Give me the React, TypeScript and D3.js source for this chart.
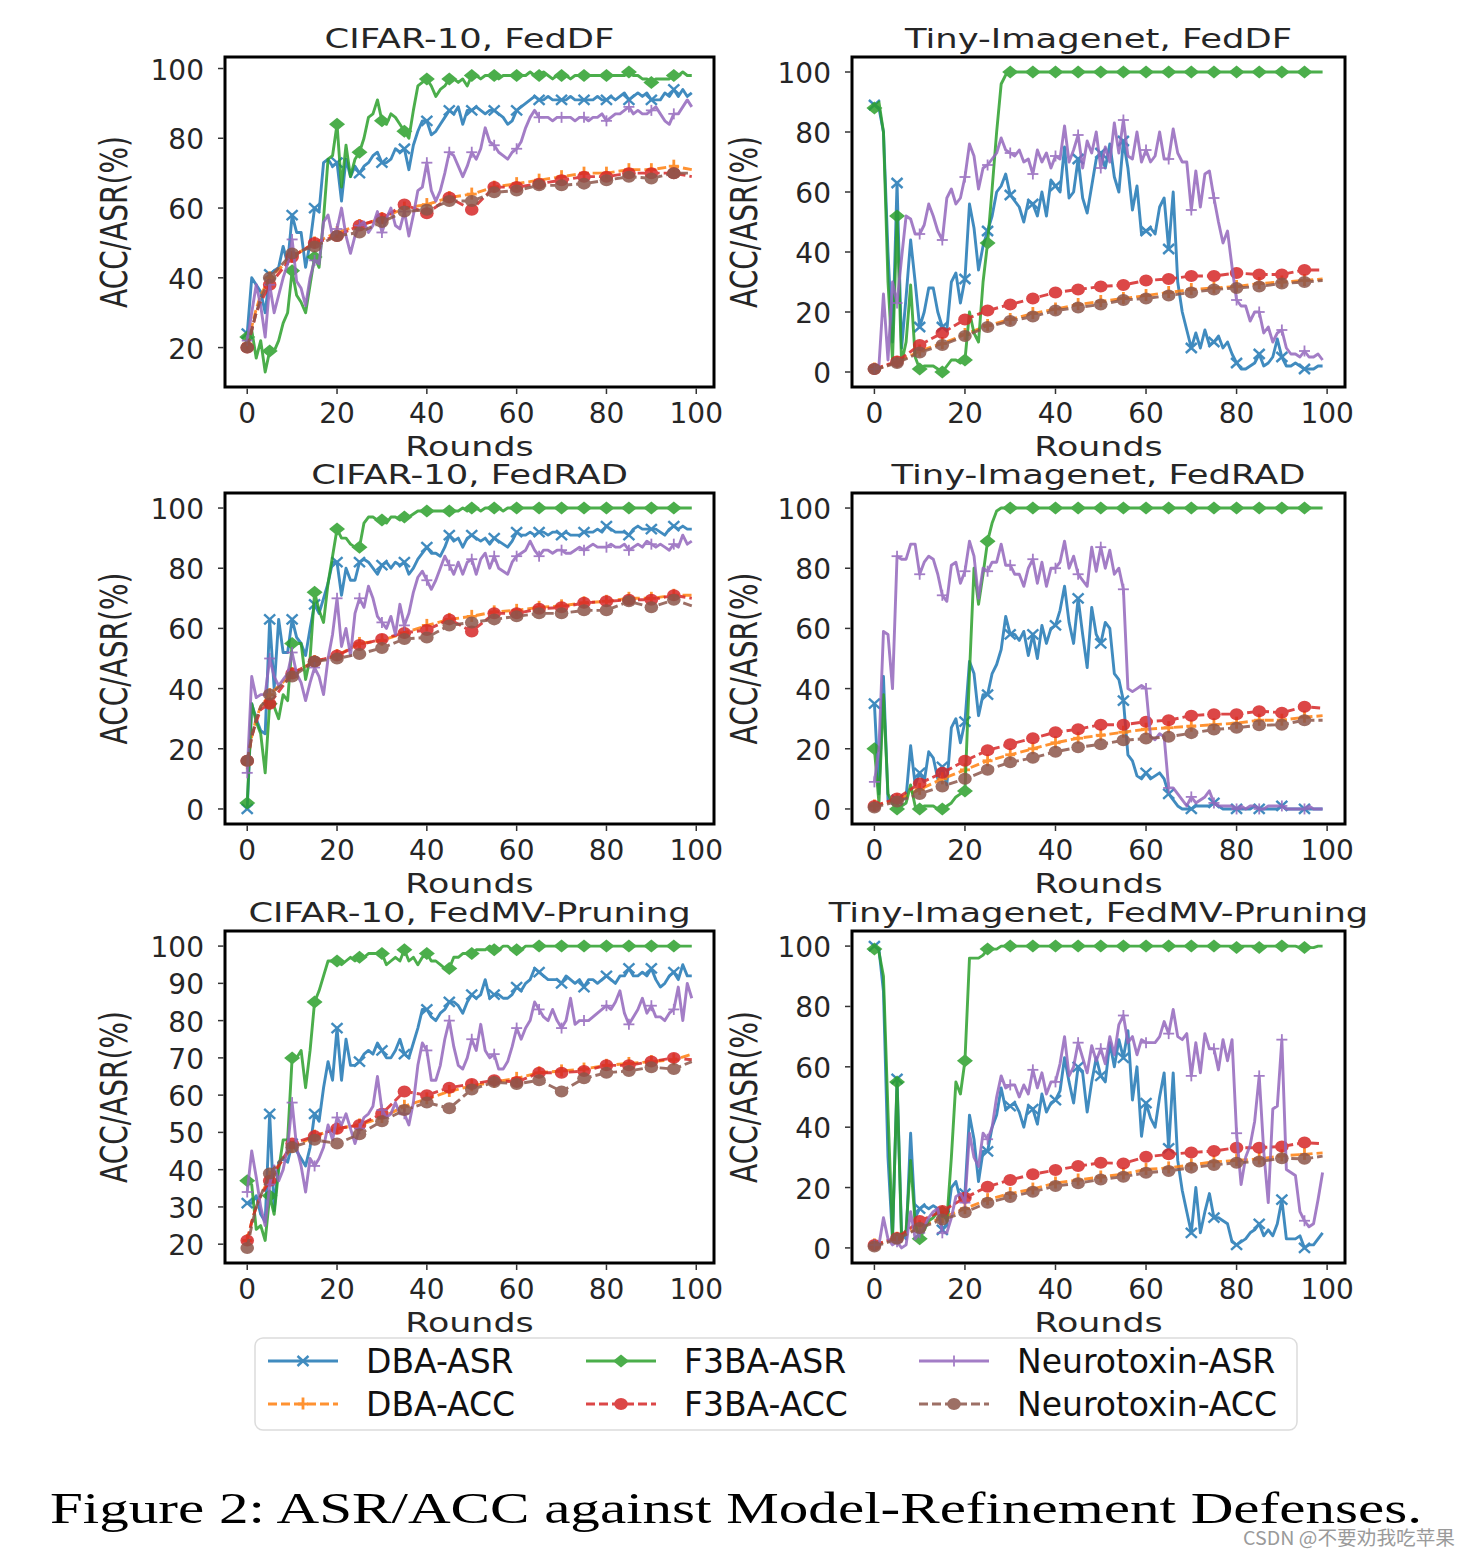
import React from "react";
import * as d3 from "d3";

// rounds on the x axis
const ROUNDS = d3.range(0, 100);
// ACC curves are smooth, read at these rounds
const ACC_ROUNDS = [0, 1, 2, 3, 5, 10, 15, 20, 25, 30, 35, 40, 45, 50, 55, 60, 65, 70, 75, 80, 85, 90, 95, 99];
const X_TICKS = [0, 20, 40, 60, 80, 100];
const Y_TICKS_20 = [20, 40, 60, 80, 100];
const Y_TICKS_0 = [0, 20, 40, 60, 80, 100];
const Y_TICKS_10 = [20, 30, 40, 50, 60, 70, 80, 90, 100];

// ---------- CIFAR-10, FedDF ----------
const CIFAR_DF_DBA_ASR = [
  24, 40, 38, 36, 30, 41, 42, 43, 49, 44, 58, 53, 53, 43, 50, 60, 59, 73, 74, 72,
  73, 62, 74, 69, 72, 70, 72, 73, 75, 76, 73, 73, 74, 77, 76, 77, 71, 78, 82, 85,
  85, 81, 82, 84, 86, 88, 87, 89, 84, 88, 88, 89, 88, 87, 88, 88, 87, 86, 84, 85,
  88, 89, 90, 91, 92, 91, 91, 92, 91, 91, 91, 91, 92, 91, 91, 91, 91, 91, 92, 91,
  91, 92, 91, 92, 93, 91, 92, 93, 92, 93, 91, 91, 91, 93, 92, 94, 92, 94, 92, 93,
];
const CIFAR_DF_F3BA_ASR = [
  23, 25, 17, 22, 13, 19, 19, 22, 27, 30, 42, 35, 33, 30, 38, 46, 43, 57, 74, 75,
  84, 66, 78, 69, 74, 76, 80, 86, 87, 91, 85, 84, 87, 86, 84, 82, 80, 88, 95, 96,
  97, 95, 92, 94, 95, 97, 97, 96, 97, 95, 98, 98, 97, 98, 98, 98, 97, 98, 98, 98,
  98, 98, 98, 99, 98, 98, 99, 98, 97, 98, 98, 98, 97, 98, 98, 98, 98, 98, 98, 98,
  98, 98, 98, 98, 98, 99, 98, 98, 97, 97, 96, 97, 97, 97, 97, 98, 98, 99, 98, 98,
];
const CIFAR_DF_NEURO_ASR = [
  22, 30, 38, 32, 23, 38, 30, 35, 40, 44, 51, 39, 37, 32, 40, 45, 44, 56, 58, 52,
  54, 60, 52, 47, 52, 55, 56, 53, 55, 59, 53, 57, 60, 55, 54, 59, 52, 58, 65, 66,
  73, 65, 62, 65, 70, 76, 75, 72, 69, 72, 76, 74, 77, 83, 79, 78, 76, 75, 74, 76,
  77, 79, 83, 86, 88, 86, 86, 86, 85, 86, 86, 86, 86, 85, 86, 86, 85, 86, 86, 87,
  85, 86, 87, 87, 88, 89, 87, 88, 87, 87, 88, 89, 87, 85, 84, 87, 87, 89, 91, 89,
];
const CIFAR_DF_DBA_ACC = [21, 26, 31, 35, 40, 46, 50, 53, 55, 57, 60, 61, 63, 64, 66, 67, 68, 69, 70, 70, 71, 71, 72, 71];
const CIFAR_DF_F3BA_ACC = [20, 25, 30, 33, 38, 46, 50, 52, 55, 57, 61, 58.5, 63, 59.5, 66, 66, 67, 68, 69, 69, 70, 70, 70, 69];
const CIFAR_DF_NEURO_ACC = [20, 25, 30, 34, 40, 47, 49, 52, 53, 56, 59, 59.5, 62, 62, 64.5, 65, 66.5, 66.5, 67, 68, 69, 68.5, 70, 70];

// ---------- Tiny-Imagenet, FedDF ----------
const TINY_DF_DBA_ASR = [
  89, 88, 80, 40, 10, 63, 8, 25, 44, 30, 15, 20, 28, 28, 20, 15, 14, 30, 33, 23,
  31, 56, 48, 34, 42, 47, 52, 60, 62, 66, 59, 57, 55, 50, 57, 56, 52, 60, 52, 64,
  62, 60, 75, 58, 60, 71, 58, 53, 62, 71, 73, 68, 76, 65, 60, 77, 68, 54, 62, 46,
  47, 48, 46, 55, 58, 41, 60, 30, 20, 14, 8, 13, 8, 14, 9, 10, 12, 8, 10, 6,
  3, 1, 1, 2, 3, 6, 2, 3, 5, 11, 5, 2, 2, 3, 2, 1, 1, 1, 2, 2,
];
const TINY_DF_F3BA_ASR = [
  88, 90, 80, 30, 4, 52, 3, 10, 29, 5, 1, 2, 2, 2, 1, 0, 2, 4, 4, 3,
  4, 20, 13, 10, 30, 43, 61, 80, 96, 99, 100, 100, 100, 100, 100, 100, 100, 100, 100, 100,
  100, 100, 100, 100, 100, 100, 100, 100, 100, 100, 100, 100, 100, 100, 100, 100, 100, 100, 100, 100,
  100, 100, 100, 100, 100, 100, 100, 100, 100, 100, 100, 100, 100, 100, 100, 100, 100, 100, 100, 100,
  100, 100, 100, 100, 100, 100, 100, 100, 100, 100, 100, 100, 100, 100, 100, 100, 100, 100, 100, 100,
];
const TINY_DF_NEURO_ASR = [
  1, 2, 26, 4, 30, 23, 38, 52, 51, 46, 46, 49, 56, 52, 47, 44, 58, 61, 56, 58,
  65, 76, 72, 61, 68, 69, 71, 73, 78, 74, 73, 72, 74, 70, 71, 66, 74, 70, 73, 68,
  72, 71, 82, 70, 74, 79, 68, 77, 73, 80, 68, 75, 70, 83, 73, 84, 72, 71, 80, 70,
  74, 70, 72, 80, 71, 71, 81, 73, 70, 70, 54, 67, 55, 66, 67, 58, 50, 43, 47, 35,
  24, 22, 22, 17, 20, 20, 13, 15, 10, 13, 14, 8, 6, 6, 5, 7, 5, 5, 6, 4,
];
const TINY_DF_DBA_ACC = [1, 1.3, 1.8, 2.3, 3.2, 7, 9.5, 12.5, 15.5, 17.5, 19.5, 21, 22.5, 23.5, 24.5, 25.5, 26.5, 27.5, 28, 28.5, 29.5, 30, 30.5, 31];
const TINY_DF_F3BA_ACC = [1, 1.5, 2, 2.5, 3.5, 9, 13, 17.5, 20.5, 22.5, 24.5, 26.5, 27.5, 28.5, 29, 30.5, 31, 32, 32, 33, 32.5, 32.5, 34, 34];
const TINY_DF_NEURO_ACC = [1, 1.2, 1.6, 2.1, 3, 6.5, 9, 12, 15, 17, 18.5, 20.5, 21.5, 22.5, 24, 24.5, 25.5, 26.5, 27.5, 28, 28.5, 29.5, 30, 30.5];

// ---------- CIFAR-10, FedRAD ----------
const CIFAR_RAD_DBA_ASR = [
  0, 35, 30, 26, 25, 63, 40, 63, 52, 52, 63, 57, 55, 51, 60, 68, 65, 70, 75, 82,
  82, 71, 80, 76, 76, 82, 83, 82, 80, 78, 81, 82, 80, 82, 81, 82, 78, 80, 83, 85,
  87, 85, 85, 84, 87, 91, 89, 90, 87, 90, 91, 90, 89, 90, 88, 90, 89, 88, 87, 89,
  92, 91, 91, 92, 91, 92, 92, 91, 92, 92, 91, 92, 91, 91, 91, 92, 92, 92, 93, 92,
  94, 93, 92, 92, 92, 91, 93, 94, 93, 93, 93, 93, 92, 91, 93, 94, 93, 94, 93, 93,
];
const CIFAR_RAD_F3BA_ASR = [
  2, 35, 29, 25, 12, 35, 34, 30, 38, 36, 55, 55, 55, 43, 50, 72, 66, 62, 75, 84,
  93, 90, 90, 88, 87, 87, 95, 97, 97, 96, 96, 95, 97, 97, 96, 97, 97, 98, 99, 99,
  99, 99, 99, 99, 99, 99, 99, 99, 100, 99, 100, 100, 99, 100, 100, 100, 100, 99, 100, 100,
  100, 100, 100, 100, 100, 100, 100, 100, 100, 100, 100, 100, 100, 100, 100, 100, 100, 100, 100, 100,
  100, 100, 100, 100, 100, 100, 100, 100, 100, 100, 100, 100, 100, 100, 100, 100, 100, 100, 100, 100,
];
const CIFAR_RAD_NEURO_ASR = [
  12, 44, 37, 38, 38, 50, 44, 41, 43, 45, 52, 45, 42, 36, 42, 47, 44, 38, 50, 58,
  70, 54, 60, 51, 65, 70, 67, 74, 70, 64, 62, 60, 64, 58, 68, 61, 65, 72, 77, 79,
  76, 73, 76, 80, 84, 81, 78, 82, 78, 82, 83, 78, 83, 85, 80, 84, 80, 79, 78, 82,
  84, 85, 86, 89, 86, 84, 86, 86, 85, 86, 86, 85, 85, 86, 87, 86, 87, 88, 87, 87,
  87, 88, 87, 87, 88, 86, 87, 88, 87, 89, 88, 87, 88, 87, 86, 88, 87, 91, 88, 89,
];
const CIFAR_RAD_DBA_ACC = [15, 24, 30, 34, 38, 45, 49, 51, 55, 56, 58.5, 61, 63, 64, 65.5, 66, 67, 67.5, 68.5, 69, 70, 70, 71, 71];
const CIFAR_RAD_F3BA_ACC = [16, 24, 29, 33, 35, 45, 49, 51, 54.5, 56.5, 58.5, 59.5, 63, 59, 65, 65, 66.5, 67, 68.5, 69, 69.5, 69.5, 71, 70];
const CIFAR_RAD_NEURO_ACC = [16, 24, 30, 34, 38, 44, 49, 50, 51.5, 53.5, 56.5, 57, 61, 62, 63, 64, 65, 65, 66, 66, 69, 67, 69.5, 67.5];

// ---------- Tiny-Imagenet, FedRAD ----------
const TINY_RAD_DBA_ASR = [
  35, 5, 44, 3, 3, 3, 3, 4, 21, 8, 12, 9, 19, 17, 10, 14, 8, 27, 30, 22,
  29, 49, 45, 31, 38, 38, 45, 48, 53, 64, 58, 58, 56, 59, 51, 58, 50, 61, 55, 60,
  61, 66, 74, 62, 55, 70, 58, 47, 67, 58, 55, 62, 60, 45, 43, 36, 18, 16, 11, 10,
  12, 10, 11, 12, 10, 5, 3, 1, 0, 0, 0, 1, 1, 1, 1, 2, 1, 0, 0, 0,
  0, 0, 0, 0, 1, 0, 0, 0, 0, 0, 1, 0, 0, 0, 0, 0, 0, 0, 0, 0,
];
const TINY_RAD_F3BA_ASR = [
  20, 2, 38, 5, 2, 0, 1, 2, 8, 1, 0, 1, 1, 1, 0, 0, 1, 2, 4, 5,
  6, 45, 80, 68, 78, 89, 95, 99, 100, 100, 100, 100, 100, 100, 100, 100, 100, 100, 100, 100,
  100, 100, 100, 100, 100, 100, 100, 100, 100, 100, 100, 100, 100, 100, 100, 100, 100, 100, 100, 100,
  100, 100, 100, 100, 100, 100, 100, 100, 100, 100, 100, 100, 100, 100, 100, 100, 100, 100, 100, 100,
  100, 100, 100, 100, 100, 100, 100, 100, 100, 100, 100, 100, 100, 100, 100, 100, 100, 100, 100, 100,
];
const TINY_RAD_NEURO_ASR = [
  9, 20, 59, 58, 40, 84, 83, 83, 88, 88, 78, 82, 84, 83, 78, 71, 69, 81, 82, 75,
  79, 89, 84, 70, 80, 79, 82, 82, 88, 81, 81, 78, 78, 74, 80, 83, 75, 82, 74, 80,
  80, 82, 89, 80, 84, 78, 76, 74, 87, 79, 87, 80, 86, 78, 80, 73, 40, 39, 40, 41,
  40, 24, 23, 25, 24, 7, 7, 5, 3, 1, 4, 2, 3, 4, 6, 2, 1, 1, 1, 1,
  0, 1, 0, 1, 1, 0, 0, 1, 1, 1, 1, 0, 0, 0, 0, 0, 1, 0, 0, 0,
];
const TINY_RAD_DBA_ACC = [1, 1.3, 1.8, 2.2, 3, 6.5, 10, 13, 16, 18, 20, 22, 23.5, 24.5, 25.5, 26.5, 27, 27.5, 28, 28.5, 29.5, 29.5, 30.5, 31];
const TINY_RAD_F3BA_ACC = [1, 1.5, 2, 2.5, 3.5, 8.5, 12, 16, 19.5, 21.5, 23.5, 25.5, 26.5, 28, 28, 29, 29.5, 31, 31.5, 31.5, 32.5, 32, 34, 33.5];
const TINY_RAD_NEURO_ACC = [0.5, 1, 1.3, 1.7, 2.5, 5, 7.5, 10, 13, 15.5, 17, 19, 20.5, 21.5, 22.8, 23.4, 24, 25.2, 26.4, 27, 27.8, 28, 29.5, 29.5];

// ---------- CIFAR-10, FedMV-Pruning ----------
const CIFAR_MV_DBA_ASR = [
  31, 31, 33, 28, 26, 55, 29, 42, 43, 42, 47, 45, 43, 41, 46, 55, 53, 62, 69, 64,
  78, 64, 75, 68, 68, 69, 71, 72, 71, 74, 72, 70, 70, 72, 75, 71, 70, 74, 78, 83,
  83, 81, 80, 82, 83, 85, 85, 84, 82, 85, 87, 86, 87, 91, 86, 87, 87, 86, 86, 87,
  89, 88, 90, 91, 94, 93, 92, 91, 91, 91, 90, 92, 91, 90, 91, 89, 91, 91, 90, 91,
  92, 91, 90, 92, 92, 94, 92, 92, 93, 92, 94, 91, 89, 90, 92, 93, 91, 95, 92, 92,
];
const CIFAR_MV_F3BA_ASR = [
  37, 36, 24, 25, 21, 33, 28, 40, 48, 48, 70, 70, 72, 62, 72, 85, 88, 92, 96, 96,
  96, 95, 96, 97, 96, 97, 97, 98, 98, 98, 98, 95, 96, 97, 96, 99, 96, 97, 95, 97,
  98, 96, 96, 95, 94, 94, 97, 97, 98, 98, 98, 99, 99, 99, 100, 99, 99, 100, 100, 99,
  99, 99, 100, 100, 100, 100, 100, 100, 100, 100, 100, 100, 100, 100, 100, 100, 100, 100, 100, 100,
  100, 100, 100, 100, 100, 100, 100, 100, 100, 100, 100, 100, 100, 100, 100, 100, 100, 100, 100, 100,
];
const CIFAR_MV_NEURO_ASR = [
  34, 45, 38, 30, 25, 36, 41, 37, 40, 46, 58, 46, 41, 34, 43, 41, 43, 46, 52, 48,
  54, 52, 55, 51, 47, 51, 54, 55, 57, 65, 56, 54, 55, 58, 55, 55, 52, 58, 68, 74,
  72, 64, 64, 68, 75, 80, 73, 68, 67, 70, 75, 72, 79, 72, 70, 71, 67, 67, 69, 73,
  78, 75, 78, 80, 85, 83, 81, 80, 83, 80, 78, 80, 86, 79, 80, 80, 80, 81, 82, 83,
  84, 83, 85, 88, 82, 79, 81, 83, 86, 82, 84, 81, 81, 80, 82, 83, 89, 80, 90, 86,
];
const CIFAR_MV_DBA_ACC = [21, 26, 30, 33, 38, 46, 49, 51, 52, 54, 57, 59, 61, 62.5, 63.5, 64.5, 66, 66.5, 67, 68, 68.5, 69, 69.5, 71];
const CIFAR_MV_F3BA_ACC = [21, 26, 30, 33, 37, 47, 49, 51, 52, 55, 61, 60, 62, 63, 64, 63.5, 66, 66, 66.5, 68, 68, 69, 70, 69.5];
const CIFAR_MV_NEURO_ACC = [19, 25, 30, 33, 39, 46, 48, 47, 49.5, 53, 56, 58, 56.5, 61.5, 63.5, 63, 64, 61, 64.5, 66, 66.5, 67.5, 67, 69];

// ---------- Tiny-Imagenet, FedMV-Pruning ----------
const TINY_MV_DBA_ASR = [
  100, 99, 85, 30, 3, 56, 5, 3, 38, 10, 13, 14, 13, 14, 13, 6, 8, 20, 22, 16,
  18, 44, 36, 22, 32, 32, 40, 44, 53, 46, 47, 48, 45, 40, 47, 46, 41, 51, 45, 48,
  49, 52, 63, 55, 48, 60, 58, 45, 55, 63, 57, 55, 68, 60, 69, 63, 72, 49, 60, 37,
  48, 43, 40, 50, 58, 33, 58, 29, 19, 12, 5, 20, 5, 12, 18, 10, 10, 9, 8, 2,
  1, 2, 3, 5, 6, 8, 4, 6, 4, 8, 16, 3, 3, 3, 4, 0, 1, 1, 3, 5,
];
const TINY_MV_F3BA_ASR = [
  99, 98, 90, 45, 4, 55, 3, 6, 29, 8, 3, 6, 9, 10, 12, 12, 9, 30, 55, 51,
  62, 96, 96, 96, 97, 99, 99, 99, 100, 100, 100, 100, 100, 100, 100, 100, 100, 100, 100, 100,
  100, 100, 100, 100, 100, 100, 100, 100, 100, 100, 100, 100, 100, 100, 100, 100, 100, 100, 100, 100,
  100, 100, 100, 100, 100, 100, 100, 100, 100, 100, 100, 100, 100, 100, 100, 100, 100, 100, 100, 100,
  99.5, 100, 100, 100, 100, 99.5, 100, 100, 100, 100, 100, 100, 100, 100, 99.5, 99.5, 99.5, 99.5, 100, 100,
];
const TINY_MV_NEURO_ASR = [
  1, 1, 10, 3, 1, 2, 0, 1, 12, 3, 5, 7, 10, 12, 13, 5, 5, 10, 17, 18,
  15, 38, 30, 27, 38, 36, 40, 50, 57, 53, 54, 54, 50, 54, 51, 59, 53, 58, 51, 55,
  55, 61, 70, 57, 60, 68, 63, 58, 67, 62, 66, 61, 70, 64, 74, 77, 68, 70, 64, 69,
  68, 68, 68, 70, 75, 71, 79, 70, 69, 71, 57, 68, 58, 71, 66, 66, 59, 69, 62, 69,
  38, 21, 30, 34, 42, 57, 32, 15, 46, 47, 69, 26, 25, 24, 12, 9, 7, 8, 16, 25,
];
const TINY_MV_DBA_ACC = [1, 1.3, 1.8, 2.3, 3.2, 7, 10, 13, 16, 18, 19.5, 21.5, 22.5, 23.5, 24.5, 26, 26.5, 27.5, 28.5, 29, 29.5, 30.5, 31, 31.5];
const TINY_MV_F3BA_ACC = [1, 1.5, 2, 2.5, 3.3, 8.9, 12.2, 16.6, 20.3, 22.5, 24.4, 25.8, 27.1, 28.2, 28, 30.2, 31, 31.6, 32.1, 33.2, 33.2, 33.6, 34.9, 34.5];
const TINY_MV_NEURO_ACC = [0.5, 1, 1.4, 1.9, 3, 6.6, 9.4, 11.8, 15, 16.9, 18.6, 20.5, 21.4, 22.7, 23.6, 24.9, 25.5, 26.6, 27.5, 28.2, 28.6, 29.7, 29.5, 30.4];

// series order: DBA-ASR, DBA-ACC, F3BA-ASR, F3BA-ACC, Neurotoxin-ASR, Neurotoxin-ACC
const SERIES_LABELS = ["DBA-ASR", "DBA-ACC", "F3BA-ASR", "F3BA-ACC", "Neurotoxin-ASR", "Neurotoxin-ACC"];
const STYLES = [
  { color: "#1f77b4", dash: null, marker: "x", rounds: ROUNDS },
  { color: "#ff7f0e", dash: "9,4", marker: "P", rounds: ACC_ROUNDS },
  { color: "#2ca02c", dash: null, marker: "D", rounds: ROUNDS },
  { color: "#d62728", dash: "9,4", marker: "o", rounds: ACC_ROUNDS },
  { color: "#9467bd", dash: null, marker: "+", rounds: ROUNDS },
  { color: "#8c564b", dash: "9,4", marker: "o", rounds: ACC_ROUNDS },
];

const PANELS = [
  { title: "CIFAR-10, FedDF", yTicks: Y_TICKS_20, series: [CIFAR_DF_DBA_ASR, CIFAR_DF_DBA_ACC, CIFAR_DF_F3BA_ASR, CIFAR_DF_F3BA_ACC, CIFAR_DF_NEURO_ASR, CIFAR_DF_NEURO_ACC] },
  { title: "Tiny-Imagenet, FedDF", yTicks: Y_TICKS_0, series: [TINY_DF_DBA_ASR, TINY_DF_DBA_ACC, TINY_DF_F3BA_ASR, TINY_DF_F3BA_ACC, TINY_DF_NEURO_ASR, TINY_DF_NEURO_ACC] },
  { title: "CIFAR-10, FedRAD", yTicks: Y_TICKS_0, series: [CIFAR_RAD_DBA_ASR, CIFAR_RAD_DBA_ACC, CIFAR_RAD_F3BA_ASR, CIFAR_RAD_F3BA_ACC, CIFAR_RAD_NEURO_ASR, CIFAR_RAD_NEURO_ACC] },
  { title: "Tiny-Imagenet, FedRAD", yTicks: Y_TICKS_0, series: [TINY_RAD_DBA_ASR, TINY_RAD_DBA_ACC, TINY_RAD_F3BA_ASR, TINY_RAD_F3BA_ACC, TINY_RAD_NEURO_ASR, TINY_RAD_NEURO_ACC] },
  { title: "CIFAR-10, FedMV-Pruning", yTicks: Y_TICKS_10, series: [CIFAR_MV_DBA_ASR, CIFAR_MV_DBA_ACC, CIFAR_MV_F3BA_ASR, CIFAR_MV_F3BA_ACC, CIFAR_MV_NEURO_ASR, CIFAR_MV_NEURO_ACC] },
  { title: "Tiny-Imagenet, FedMV-Pruning", yTicks: Y_TICKS_0, series: [TINY_MV_DBA_ASR, TINY_MV_DBA_ACC, TINY_MV_F3BA_ASR, TINY_MV_F3BA_ACC, TINY_MV_NEURO_ASR, TINY_MV_NEURO_ACC] },
];

// layout
const COL_LEFT = [225, 852];
const COL_RIGHT = [714, 1345];
const ROW_TOP = [57, 493, 931];
const ROW_BOTTOM = [387, 824, 1263];
const YLABEL_X = [127, 757];
const FONT = "DejaVu Sans";
const LINE_W = 2.9;

const padExtent = (ext: [number, number]) => {
  const p = (ext[1] - ext[0]) * 0.05;
  return [ext[0] - p, ext[1] + p];
};

function Marker({ kind, cx, cy, color }: { kind: string; cx: number; cy: number; color: string }) {
  if (kind === "x")
    return (
      <g stroke={color} strokeWidth={2.4}>
        <line x1={cx - 5.5} y1={cy - 5} x2={cx + 5.5} y2={cy + 5} />
        <line x1={cx - 5.5} y1={cy + 5} x2={cx + 5.5} y2={cy - 5} />
      </g>
    );
  if (kind === "D")
    return <path d={`M${cx - 8},${cy}L${cx},${cy - 6.5}L${cx + 8},${cy}L${cx},${cy + 6.5}Z`} fill={color} />;
  if (kind === "+")
    return (
      <g stroke={color} strokeWidth={1.8}>
        <line x1={cx - 5.5} y1={cy} x2={cx + 5.5} y2={cy} />
        <line x1={cx} y1={cy - 5.5} x2={cx} y2={cy + 5.5} />
      </g>
    );
  if (kind === "P")
    return (
      <g stroke={color} strokeWidth={2.8}>
        <line x1={cx - 5} y1={cy} x2={cx + 5} y2={cy} />
        <line x1={cx} y1={cy - 6.5} x2={cx} y2={cy + 5.5} />
      </g>
    );
  return <ellipse cx={cx} cy={cy} rx={6.8} ry={6} fill={color} />;
}

function Panel({ panel, idx }: { panel: any; idx: number }) {
  const col = idx % 2;
  const row = Math.floor(idx / 2);
  const left = COL_LEFT[col];
  const right = COL_RIGHT[col];
  const top = ROW_TOP[row];
  const bottom = ROW_BOTTOM[row];

  const x = d3.scaleLinear().domain(padExtent(d3.extent(ROUNDS) as [number, number])).range([left, right]);
  const allVals: number[] = panel.series.flat();
  const y = d3.scaleLinear().domain(padExtent(d3.extent(allVals) as [number, number])).range([bottom, top]);

  return (
    <g>
      {panel.series.map((vals: number[], si: number) => {
        const st = STYLES[si];
        const line = d3
          .line<number>()
          .x((_, i) => x(st.rounds[i]))
          .y((v) => y(v));
        return (
          <g key={si} opacity={0.85}>
            <path d={line(vals) || ""} fill="none" stroke={st.color} strokeWidth={LINE_W} strokeDasharray={st.dash || undefined} strokeLinejoin="round" />
            {vals.map((v, i) =>
              st.rounds[i] % 5 === 0 ? <Marker key={i} kind={st.marker} cx={x(st.rounds[i])} cy={y(v)} color={st.color} /> : null
            )}
          </g>
        );
      })}
      <rect x={left} y={top} width={right - left} height={bottom - top} fill="none" stroke="#000" strokeWidth={3} />
      {X_TICKS.map((t) => (
        <g key={"xt" + t}>
          <line x1={x(t)} x2={x(t)} y1={bottom + 1.5} y2={bottom + 7} stroke="#333" strokeWidth={1.5} />
          <text x={x(t)} y={bottom + 36} textAnchor="middle" fontSize={28} fill="#262626" fontFamily={FONT}>{t}</text>
        </g>
      ))}
      {panel.yTicks.map((t: number) => (
        <g key={"yt" + t}>
          <line x1={left - 7} x2={left - 1.5} y1={y(t)} y2={y(t)} stroke="#333" strokeWidth={1.5} />
          <text x={left - 21} y={y(t) + 11} textAnchor="end" fontSize={28} fill="#262626" fontFamily={FONT}>{t}</text>
        </g>
      ))}
      <text transform={`translate(${(left + right) / 2},${top - 9}) scale(1.36,1)`} textAnchor="middle" fontSize={26} fill="#262626" fontFamily={FONT}>
        {panel.title}
      </text>
      <text transform={`translate(${(left + right) / 2},${bottom + 69}) scale(1.34,1)`} textAnchor="middle" fontSize={26} fill="#262626" fontFamily={FONT}>
        Rounds
      </text>
      <text transform={`translate(${YLABEL_X[col]},${(top + bottom) / 2}) scale(1.3,1) rotate(-90)`} textAnchor="middle" fontSize={28} fill="#262626" fontFamily={FONT}>
        ACC/ASR(%)
      </text>
    </g>
  );
}

// legend layout: 3 columns x 2 rows, filled column-wise
const LEG_COL_X = [268, 586, 919];
const LEG_ROW_Y = [1361, 1404];

function Legend() {
  return (
    <g>
      <rect x={255} y={1338} width={1042} height={92} rx={8} fill="#fff" stroke="#dcdcdc" strokeWidth={1.5} />
      {SERIES_LABELS.map((label, i) => {
        const st = STYLES[i];
        const cx = LEG_COL_X[Math.floor(i / 2)];
        const cy = LEG_ROW_Y[i % 2];
        return (
          <g key={label}>
            <g opacity={0.85}>
              <line x1={cx} x2={cx + 70} y1={cy} y2={cy} stroke={st.color} strokeWidth={LINE_W} strokeDasharray={st.dash || undefined} />
              <Marker kind={st.marker} cx={cx + 35} cy={cy} color={st.color} />
            </g>
            <text x={cx + 98} y={cy + 12} fontSize={33} fill="#111" fontFamily={FONT}>{label}</text>
          </g>
        );
      })}
    </g>
  );
}

export default function App() {
  return (
    <svg width={1470} height={1557} style={{ position: "absolute", left: 0, top: 0, display: "block" }}>
      <rect width={1470} height={1557} fill="#fff" />
      {PANELS.map((p, i) => (
        <Panel key={i} panel={p} idx={i} />
      ))}
      <Legend />
      <text x={50} y={1523} fontSize={45} fontFamily="Liberation Serif" fill="#000" textLength={1372} lengthAdjust="spacingAndGlyphs">
        Figure 2: ASR/ACC against Model-Refinement Defenses.
      </text>
      <text x={1243} y={1545} fontSize={19} fontFamily="Noto Sans CJK SC" fill="#9a9a9a" textLength={212} lengthAdjust="spacingAndGlyphs">
        CSDN @不要劝我吃苹果
      </text>
    </svg>
  );
}
